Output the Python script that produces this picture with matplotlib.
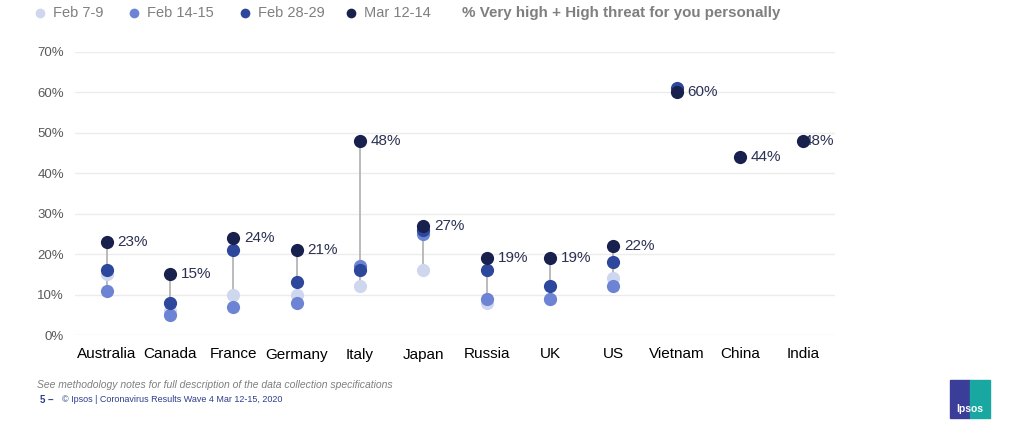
import matplotlib.pyplot as plt
from matplotlib.lines import Line2D
from matplotlib.patches import Rectangle
import numpy as np

plt.rcParams['font.family'] = ['Liberation Sans', 'DejaVu Sans']

countries = ['Australia', 'Canada', 'France', 'Germany', 'Italy', 'Japan',
             'Russia', 'UK', 'US', 'Vietnam', 'China', 'India']
# nan = not surveyed in that wave
feb7 = [15, 6, 10, 10, 12, 16, 8, 9, 14, np.nan, np.nan, np.nan]
feb14 = [11, 5, 7, 8, 17, 25, 9, 9, 12, np.nan, np.nan, np.nan]
feb28 = [16, 8, 21, 13, 16, 26, 16, 12, 18, 61, np.nan, np.nan]
mar12 = [23, 15, 24, 21, 48, 27, 19, 19, 22, 60, 44, 48]

waves = ['Feb 7-9', 'Feb 14-15', 'Feb 28-29', 'Mar 12-14']
colors = ['#cfd7ef', '#6d84d4', '#2c479c', '#18214d']

fig = plt.figure(figsize=(10.24, 4.38), dpi=100)
ax = fig.add_axes([75 / 1024, 1 - 335 / 438, 760 / 1024, 283 / 438])

x = np.arange(len(countries))
series = [feb7, feb14, feb28, mar12]
allv = np.array(series, dtype=float)
lo = np.nanmin(allv, axis=0)
hi = np.nanmax(allv, axis=0)
ax.vlines(x, lo, hi, color='#b5b5b5', lw=1.3, zorder=2)
for vals, c in zip(series, colors):
    ax.plot(x, vals, 'o', color=c, ms=9.5, mec='none', ls='none', zorder=3)

for i, v in enumerate(mar12):
    dx = 0.0 if countries[i] == 'India' else 0.17
    ax.text(x[i] + dx, v, f'{v}%', color='#2b3152', fontsize=11,
            va='center', ha='left', zorder=2.5 if countries[i] == 'India' else 4)

ax.set_xlim(-0.5, len(countries) - 0.5)
ax.set_ylim(0, 70)
ax.set_yticks(range(0, 71, 10))
ax.set_yticklabels([f'{t}%' for t in range(0, 71, 10)], color='#595959', fontsize=9.5)
ax.set_xticks(x)
ax.set_xticklabels(countries, color='black', fontsize=11)
ax.tick_params(length=0, axis='both')
ax.tick_params(axis='x', pad=9)
ax.tick_params(axis='y', pad=8)
ax.grid(axis='y', color='#ececec', lw=1)
ax.set_axisbelow(True)
for s in ax.spines.values():
    s.set_visible(False)

# legend across the top
leg_x = [40, 134, 245, 351]
for lx, name, c in zip(leg_x, waves, colors):
    fig.add_artist(Line2D([lx / 1024], [1 - 13 / 438], marker='o', color=c,
                          ms=7, mec='none', transform=fig.transFigure))
    fig.text((lx + 13) / 1024, 1 - 13 / 438, name, color='#7f7f7f',
             fontsize=10.5, va='center', ha='left')
fig.text(462 / 1024, 1 - 13 / 438, '% Very high + High threat for you personally',
         color='#7f7f7f', fontsize=10.9, fontweight='bold', va='center', ha='left')

# footer
fig.text(37 / 1024, 1 - 385 / 438,
         'See methodology notes for full description of the data collection specifications',
         color='#7f7f7f', fontsize=7.5, style='italic', va='center', ha='left')
fig.text(40 / 1024, 1 - 400 / 438, '5 –', color='#2c3e8c', fontsize=7,
         fontweight='bold', va='center', ha='left')
fig.text(62 / 1024, 1 - 400 / 438, '© Ipsos | Coronavirus Results Wave 4 Mar 12-15, 2020',
         color='#2c3e8c', fontsize=6.5, va='center', ha='left')

# logo
fig.add_artist(Rectangle((950 / 1024, 1 - 418 / 438), 20 / 1024, 38 / 438,
                         color='#3b3e99', transform=fig.transFigure))
fig.add_artist(Rectangle((970 / 1024, 1 - 418 / 438), 20 / 1024, 38 / 438,
                         color='#19a7a1', transform=fig.transFigure))
fig.text(970 / 1024, 1 - 409 / 438, 'Ipsos', color='white', fontsize=7.5,
         fontweight='bold', va='center', ha='center')

fig.savefig('out.png', dpi=100)
